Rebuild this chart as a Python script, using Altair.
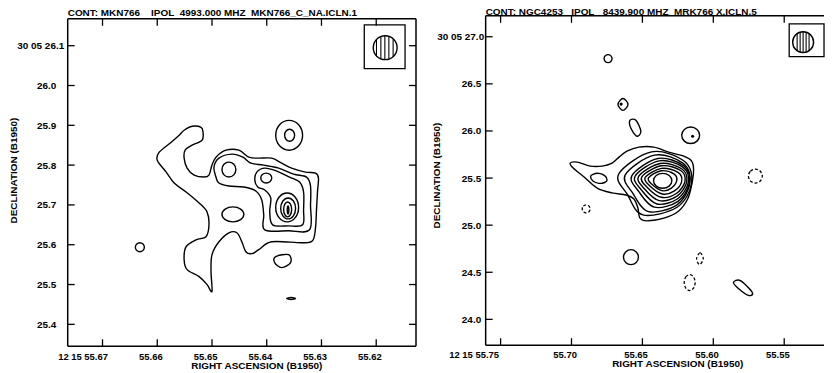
import altair as alt
import pandas as pd

FONT = "Liberation Sans"
NB = "\u00a0"

# ---------------- Left panel: MKN766, 4993 MHz (RA seconds, Dec arcsec) ----------------
L_TITLE = "CONT: MKN766" + NB * 4 + "IPOL" + NB * 2 + "4993.000 MHZ" + NB * 2 + "MKN766_C_NA.ICLN.1"
L_XTICKS = [55.67, 55.66, 55.65, 55.64, 55.63, 55.62]
L_YTICKS = [26.1, 26.0, 25.9, 25.8, 25.7, 25.6, 25.5, 25.4]

L_outer = [(55.65509, 25.8875), (55.65364, 25.8975), (55.65200, 25.8950), (55.65164, 25.8825),
           (55.65182, 25.8625), (55.65364, 25.8500), (55.65491, 25.8375), (55.65509, 25.8175),
           (55.65455, 25.7925), (55.65327, 25.7750), (55.65145, 25.7700), (55.65055, 25.7750),
           (55.65000, 25.8000), (55.64927, 25.8200), (55.64745, 25.8375), (55.64509, 25.8375),
           (55.64327, 25.8200), (55.64145, 25.8175), (55.63909, 25.8175), (55.63727, 25.8050),
           (55.63545, 25.7925), (55.63291, 25.7825), (55.63109, 25.7800), (55.63055, 25.7675),
           (55.63073, 25.7325), (55.63091, 25.6875), (55.63109, 25.6425), (55.63164, 25.6100),
           (55.63364, 25.6050), (55.63909, 25.6075), (55.64145, 25.5875), (55.64273, 25.5775),
           (55.64382, 25.5825), (55.64455, 25.6075), (55.64545, 25.6300), (55.64691, 25.6300),
           (55.64873, 25.6075), (55.65000, 25.5750), (55.65018, 25.5325), (55.65000, 25.4825),
           (55.65091, 25.5000), (55.65236, 25.5200), (55.65455, 25.5375), (55.65509, 25.5625),
           (55.65473, 25.5950), (55.65291, 25.6125), (55.65109, 25.6200), (55.65055, 25.6500),
           (55.65091, 25.6825), (55.65236, 25.7050), (55.65473, 25.7325), (55.65691, 25.7550),
           (55.65836, 25.7825), (55.66000, 25.8125), (55.65964, 25.8325), (55.65745, 25.8575),
           (55.65600, 25.8750)]
L_second = [(55.64927, 25.7700), (55.64964, 25.7950), (55.64873, 25.8175), (55.64636, 25.8275),
            (55.64436, 25.8200), (55.64291, 25.8050), (55.64055, 25.8000), (55.63782, 25.7925),
            (55.63509, 25.7775), (55.63273, 25.7700), (55.63200, 25.7475), (55.63200, 25.7000),
            (55.63218, 25.6375), (55.63600, 25.6350), (55.64036, 25.6375), (55.64055, 25.6750),
            (55.64091, 25.7125), (55.64200, 25.7350), (55.64418, 25.7450), (55.64691, 25.7475),
            (55.64873, 25.7550)]
L_third = [(55.64218, 25.7625), (55.64182, 25.7825), (55.64036, 25.7925), (55.63818, 25.7850),
           (55.63582, 25.7700), (55.63400, 25.7575), (55.63327, 25.7325), (55.63327, 25.6875),
           (55.63345, 25.6500), (55.63600, 25.6475), (55.63891, 25.6500), (55.63945, 25.6825),
           (55.63927, 25.7175), (55.64036, 25.7375), (55.64164, 25.7450)]
L_peak_west = [(55.64818, 25.7888), (55.64781, 25.8020), (55.64691, 25.8075), (55.64601, 25.8020),
               (55.64564, 25.7888), (55.64601, 25.7755), (55.64691, 25.7700), (55.64781, 25.7755)]
L_peak_mid = [(55.64109, 25.7675), (55.64080, 25.7763), (55.64009, 25.7800), (55.63938, 25.7763),
              (55.63909, 25.7675), (55.63938, 25.7587), (55.64009, 25.7550), (55.64080, 25.7587)]
L_peak_r2 = [(55.63836, 25.6938), (55.63775, 25.7194), (55.63627, 25.7300), (55.63479, 25.7194),
             (55.63418, 25.6938), (55.63479, 25.6681), (55.63627, 25.6575), (55.63775, 25.6681)]
L_peak_r3 = [(55.63745, 25.6913), (55.63705, 25.7098), (55.63609, 25.7175), (55.63513, 25.7098),
             (55.63473, 25.6913), (55.63513, 25.6727), (55.63609, 25.6650), (55.63705, 25.6727)]
L_peak_r4 = [(55.63691, 25.6888), (55.63669, 25.7020), (55.63618, 25.7075), (55.63567, 25.7020),
             (55.63545, 25.6888), (55.63567, 25.6755), (55.63618, 25.6700), (55.63669, 25.6755)]
L_peak_r5 = [(55.63625, 25.6875), (55.63611, 25.6975), (55.63596, 25.6875), (55.63611, 25.6775)]
L_ne_out = [(55.63836, 25.8750), (55.63765, 25.9015), (55.63591, 25.9125), (55.63417, 25.9015),
            (55.63345, 25.8750), (55.63417, 25.8485), (55.63591, 25.8375), (55.63765, 25.8485)]
L_ne_in = [(55.63673, 25.8750), (55.63646, 25.8856), (55.63582, 25.8900), (55.63518, 25.8856),
           (55.63491, 25.8750), (55.63518, 25.8644), (55.63582, 25.8600), (55.63646, 25.8644)]
L_ellipse = [(55.64818, 25.6763), (55.64759, 25.6895), (55.64618, 25.6950), (55.64477, 25.6895),
             (55.64418, 25.6763), (55.64477, 25.6630), (55.64618, 25.6575), (55.64759, 25.6630)]
L_west = [(55.66400, 25.5938), (55.66376, 25.6017), (55.66318, 25.6050), (55.66260, 25.6017),
          (55.66236, 25.5938), (55.66260, 25.5858), (55.66318, 25.5825), (55.66376, 25.5858)]
L_south = [(55.63836, 25.5700), (55.63600, 25.5750), (55.63564, 25.5550), (55.63727, 25.5425),
           (55.63855, 25.5550)]
L_dash = [(55.63636, 25.4650), (55.63555, 25.4675), (55.63473, 25.4650), (55.63555, 25.4625)]

L_CONTOURS = {"outer": L_outer, "second": L_second, "third": L_third, "pw": L_peak_west,
              "pm": L_peak_mid, "r2": L_peak_r2, "r3": L_peak_r3, "r4": L_peak_r4,
              "r5": L_peak_r5, "neo": L_ne_out, "nei": L_ne_in, "ell": L_ellipse,
              "west": L_west, "south": L_south, "dash": L_dash}
L_NEG = {}
L_DOTS = []
# beam box (RA1, RA2, Dec top, Dec bottom), beam centre, hatch lines
L_BOX = [(55.62218, 55.61473, 26.1525, 26.0425)]
L_BEAM = [(55.61836, 26.095)]
L_HATCH_RA = [55.61995, 55.61915, 55.61842, 55.61769, 55.61691]
L_HATCH_TOP = [26.1165, 26.12325, 26.125, 26.12325, 26.1165]
L_HATCH_BOT = [26.0735, 26.06675, 26.065, 26.06675, 26.0735]

# ---------------- Right panel: NGC4253 / MRK766, 8439.9 MHz ----------------
R_TITLE = "CONT: NGC4253" + NB * 3 + "IPOL" + NB * 3 + "8439.900 MHZ" + NB * 2 + "MRK766 X.ICLN.5"
R_XTICKS = [55.75, 55.70, 55.65, 55.60, 55.55]
R_YTICKS = [27.0, 26.5, 26.0, 25.5, 25.0, 24.5, 24.0]

R_outer = [(55.7009, 25.659), (55.6960, 25.669), (55.6868, 25.627), (55.6784, 25.627),
           (55.6714, 25.659), (55.6665, 25.722), (55.6609, 25.785), (55.6525, 25.828),
           (55.6419, 25.828), (55.6314, 25.775), (55.6209, 25.732), (55.6153, 25.680),
           (55.6139, 25.585), (55.6153, 25.426), (55.6181, 25.278), (55.6244, 25.151),
           (55.6342, 25.078), (55.6468, 25.046), (55.6518, 25.078), (55.6532, 25.183),
           (55.6560, 25.278), (55.6616, 25.320), (55.6714, 25.342), (55.6819, 25.394),
           (55.6911, 25.511), (55.6988, 25.606)]
R_l2 = [(55.6667, 25.543), (55.6436, 25.778), (55.6204, 25.678), (55.6153, 25.443),
        (55.6256, 25.190), (55.6497, 25.109), (55.6605, 25.324)]
R_l3 = [(55.6621, 25.534), (55.6415, 25.743), (55.6210, 25.653), (55.6165, 25.443),
        (55.6256, 25.216), (55.6457, 25.144), (55.6566, 25.335)]
R_l4 = [(55.6574, 25.526), (55.6391, 25.708), (55.6209, 25.630), (55.6169, 25.449),
        (55.6249, 25.253), (55.6416, 25.191), (55.6525, 25.356)]
R_l5 = [(55.6551, 25.522), (55.6382, 25.683), (55.6213, 25.614), (55.6176, 25.454),
        (55.6251, 25.280), (55.6397, 25.225), (55.6506, 25.372)]
R_l6 = [(55.6527, 25.517), (55.6374, 25.655), (55.6221, 25.596), (55.6188, 25.458),
        (55.6256, 25.308), (55.6381, 25.260), (55.6486, 25.387)]
R_l7 = [(55.6504, 25.513), (55.6367, 25.630), (55.6230, 25.580), (55.6200, 25.463),
        (55.6261, 25.336), (55.6367, 25.296), (55.6467, 25.403)]
R_l8 = [(55.6480, 25.507), (55.6365, 25.603), (55.6249, 25.561), (55.6223, 25.466),
        (55.6274, 25.364), (55.6360, 25.331), (55.6449, 25.418)]
R_l9 = [(55.6457, 25.503), (55.6367, 25.577), (55.6278, 25.545), (55.6258, 25.472),
        (55.6298, 25.391), (55.6361, 25.366), (55.6433, 25.434)]
R_core = [(55.64215, 25.4705), (55.64026, 25.5265), (55.63569, 25.5497), (55.63112, 25.5265),
          (55.62923, 25.4705), (55.63112, 25.4145), (55.63569, 25.3913), (55.64026, 25.4145)]
R_tail = [(55.68656, 25.514), (55.68486, 25.540), (55.68074, 25.550), (55.67662, 25.526),
          (55.67491, 25.480), (55.67662, 25.453), (55.68074, 25.444), (55.68486, 25.468)]
R_top = [(55.67702, 26.768), (55.67620, 26.797), (55.67421, 26.810), (55.67223, 26.797),
         (55.67140, 26.768), (55.67223, 26.738), (55.67421, 26.725), (55.67620, 26.738)]
R_a = [(55.6672, 26.282), (55.6637, 26.345), (55.6602, 26.282), (55.6637, 26.218)]
R_b = [(55.6588, 26.113), (55.6546, 26.113), (55.6511, 25.997), (55.6539, 25.944), (55.6581, 26.028)]
R_c = [(55.62229, 25.954), (55.62044, 26.016), (55.61597, 26.042), (55.61150, 26.016),
       (55.60965, 25.954), (55.61150, 25.892), (55.61597, 25.867), (55.62044, 25.892)]
R_d = [(55.66333, 24.660), (55.66179, 24.716), (55.65807, 24.740), (55.65435, 24.716),
       (55.65281, 24.660), (55.65435, 24.604), (55.65807, 24.581), (55.66179, 24.604)]
R_e = [(55.5858, 24.391), (55.5809, 24.412), (55.5725, 24.285), (55.5753, 24.254), (55.5823, 24.328)]
R_n1 = [(55.69246, 25.173), (55.69164, 25.202), (55.68965, 25.215), (55.68767, 25.202),
        (55.68684, 25.173), (55.68767, 25.143), (55.68965, 25.130), (55.69164, 25.143)]
R_n2 = [(55.6118, 24.644), (55.6093, 24.708), (55.6071, 24.644), (55.6097, 24.581)]
R_n3 = [(55.62053, 24.391), (55.61940, 24.451), (55.61667, 24.475), (55.61394, 24.451),
        (55.61281, 24.391), (55.61394, 24.331), (55.61667, 24.306), (55.61940, 24.331)]
R_n4 = [(55.57526, 25.521), (55.57382, 25.573), (55.57035, 25.595), (55.56688, 25.573),
        (55.56544, 25.521), (55.56688, 25.469), (55.57035, 25.447), (55.57382, 25.469)]

R_CONTOURS = {"outer": R_outer, "l2": R_l2, "l3": R_l3, "l4": R_l4, "l5": R_l5, "l6": R_l6,
              "l7": R_l7, "l8": R_l8, "l9": R_l9, "core": R_core, "tail": R_tail, "top": R_top,
              "a": R_a, "b": R_b, "c": R_c, "d": R_d, "e": R_e}
R_NEG = {"n1": R_n1, "n2": R_n2, "n3": R_n3, "n4": R_n4}
R_DOTS = [(55.6146, 25.944), (55.6650, 26.285)]
R_BOX = [(55.54649, 55.52193, 27.1373, 26.7887)]
R_BEAM = [(55.53667, 26.9419)]
R_HATCH_RA = [55.54088, 55.53877, 55.53667, 55.53456, 55.53246]
R_HATCH_TOP = [27.0327, 27.0475, 27.0528, 27.0475, 27.0327]
R_HATCH_BOT = [26.8511, 26.8363, 26.8310, 26.8363, 26.8511]


def contour_df(contours):
    rows = []
    for cid, pts in contours.items():
        for i, (ra, dec) in enumerate(pts):
            rows.append({"cid": cid, "i": i, "ra": ra, "dec": dec})
    return pd.DataFrame(rows, columns=["cid", "i", "ra", "dec"])


def panel(p):
    W, H = p["W"], p["H"]
    ft, fb = p["ftop"], p["fbot"]
    xs = alt.Scale(domain=p["xdom"], reverse=True, nice=False, zero=False)
    ys = alt.Scale(domain=p["ydom"], nice=False, zero=False)
    xfirst, yfirst = p["xt"][0], p["yt"][0]
    xaxis = alt.Axis(
        values=p["xt"], ticks=False, tickSize=0, domain=False, grid=False,
        labelExpr=f"abs(datum.value - {xfirst}) < 0.0001 ? '12 15 {xfirst:.2f}' : format(datum.value, '.2f')",
        labelFont=FONT, labelFontSize=9.5, labelFontWeight="bold", labelColor="black",
        labelAlign="right", labelBaseline="top",
        labelOffset={"condition": {"test": f"abs(datum.value - {xfirst}) < 0.0001", "value": p["xoff_first"]},
                     "value": 5},
        labelPadding=p["xpad"], labelOverlap=False, labelFlush=False,
        title="RIGHT ASCENSION (B1950)", titleFont=FONT, titleFontSize=10, titleFontWeight="bold",
        titleColor="black", titleX=p["xtitle"][0], titleY=p["xtitle"][1], titleAlign="center",
        titleBaseline="alphabetic", titleAngle=0)
    yaxis = alt.Axis(
        values=p["yt"], ticks=False, tickSize=0, domain=False, grid=False,
        labelExpr=f"abs(datum.value - {yfirst}) < 0.001 ? '30 05 {yfirst:.1f}' : format(datum.value, '.1f')",
        labelFont=FONT, labelFontSize=10, labelFontWeight="bold", labelColor="black",
        labelAlign="right", labelBaseline="middle",
        labelPadding={"condition": {"test": f"abs(datum.value - {yfirst}) < 0.001", "value": p["ypad"][0]},
                      "value": p["ypad"][1]},
        labelOverlap=False, labelFlush=False,
        title="DECLINATION (B1950)", titleFont=FONT, titleFontSize=10, titleFontWeight="bold",
        titleColor="black", titleX=p["ytitle"][0], titleY=p["ytitle"][1], titleAngle=270,
        titleAlign="center", titleBaseline="middle")
    X = lambda f: alt.X(f"{f}:Q", scale=xs, axis=xaxis)
    Y = lambda f: alt.Y(f"{f}:Q", scale=ys, axis=yaxis)

    layers = []
    cdf = contour_df(p["contours"])
    layers.append(alt.Chart(cdf).mark_line(interpolate="cardinal-closed", color="black", strokeWidth=1.4)
                  .encode(x=X("ra"), y=Y("dec"), detail="cid:N", order="i:Q"))
    if p["neg"]:
        ndf = contour_df(p["neg"])
        layers.append(alt.Chart(ndf).mark_line(interpolate="cardinal-closed", color="black",
                                               strokeWidth=1.3, strokeDash=[3, 2])
                      .encode(x=X("ra"), y=Y("dec"), detail="cid:N", order="i:Q"))
    if p["dots"]:
        ddf = pd.DataFrame(p["dots"], columns=["ra", "dec"])
        layers.append(alt.Chart(ddf).mark_point(filled=True, color="black", size=10, opacity=1)
                      .encode(x=X("ra"), y=Y("dec")))
    # beam box with hatched beam
    bdf = pd.DataFrame(p["box"], columns=["ra", "ra2", "dec", "dec2"])
    layers.append(alt.Chart(bdf).mark_rect(fill="white", stroke="black", strokeWidth=1.3)
                  .encode(x=X("ra"), x2="ra2", y=Y("dec"), y2="dec2"))
    hdf = pd.DataFrame({"ra": p["hra"], "dec": p["htop"], "dec2": p["hbot"]})
    layers.append(alt.Chart(hdf).mark_rule(color="black", strokeWidth=1.1)
                  .encode(x=X("ra"), y=Y("dec"), y2="dec2"))
    cdfb = pd.DataFrame(p["beam"], columns=["ra", "dec"])
    layers.append(alt.Chart(cdfb).mark_point(shape="circle", filled=False, color="black",
                                             strokeWidth=1.4, size=p["beam_size"], opacity=1)
                  .encode(x=X("ra"), y=Y("dec")))
    # inward ticks on the frame
    xt_df = pd.DataFrame({"ra": p["xt"]})
    yt_df = pd.DataFrame({"dec": p["yt"]})
    tick = dict(color="black", strokeWidth=1.3)
    layers.append(alt.Chart(xt_df).mark_rule(**tick).encode(x=X("ra"), y=alt.value(ft), y2=alt.value(ft + 7)))
    layers.append(alt.Chart(xt_df).mark_rule(**tick).encode(x=X("ra"), y=alt.value(fb), y2=alt.value(fb - 7)))
    layers.append(alt.Chart(yt_df).mark_rule(**tick).encode(y=Y("dec"), x=alt.value(0), x2=alt.value(7)))
    if p["right_frame"]:
        layers.append(alt.Chart(yt_df).mark_rule(**tick).encode(y=Y("dec"), x=alt.value(W), x2=alt.value(W - 7)))
    # frame
    one = pd.DataFrame({"k": [0]})
    fr = dict(color="black", strokeWidth=1.5)
    layers.append(alt.Chart(one).mark_rule(**fr).encode(x=alt.value(0), x2=alt.value(W), y=alt.value(ft)))
    layers.append(alt.Chart(one).mark_rule(**fr).encode(x=alt.value(0), x2=alt.value(W), y=alt.value(fb)))
    layers.append(alt.Chart(one).mark_rule(**fr).encode(x=alt.value(0), y=alt.value(ft), y2=alt.value(fb)))
    if p["right_frame"]:
        layers.append(alt.Chart(one).mark_rule(**fr).encode(x=alt.value(W), y=alt.value(ft), y2=alt.value(fb)))
    # map header line
    tdf = pd.DataFrame({"t": [p["title"]]})
    layers.append(alt.Chart(tdf).mark_text(align="left", baseline="alphabetic", font=FONT, fontSize=10,
                                           fontWeight="bold", color="black")
                  .encode(text="t:N", x=alt.value(0), y=alt.value(p["title_y"])))
    return alt.layer(*layers).properties(width=W, height=H)


left = panel(dict(
    W=350, H=329, ftop=0, fbot=329, right_frame=True,
    xdom=[55.61273, 55.67636], ydom=[25.345, 26.1675],
    xt=L_XTICKS, yt=L_YTICKS, xoff_first=5, xpad=5, ypad=(4, 12),
    xtitle=(189.5, 22), ytitle=(-54.5, 152),
    contours=L_CONTOURS, neg=L_NEG, dots=L_DOTS, box=L_BOX, beam=L_BEAM, beam_size=576,
    hra=L_HATCH_RA, htop=L_HATCH_TOP, hbot=L_HATCH_BOT, title=L_TITLE, title_y=-3))

right = panel(dict(
    W=340, H=329, ftop=-3, fbot=328, right_frame=False,
    xdom=[55.52194, 55.76053], ydom=[23.7149, 27.1901],
    xt=R_XTICKS, yt=R_YTICKS, xoff_first=-2, xpad=3, ypad=(2, 5),
    xtitle=(192.5, 20), ytitle=(-49, 157),
    contours=R_CONTOURS, neg=R_NEG, dots=R_DOTS, box=R_BOX, beam=R_BEAM, beam_size=441,
    hra=R_HATCH_RA, htop=R_HATCH_TOP, hbot=R_HATCH_BOT, title=R_TITLE, title_y=-4))

chart = alt.hconcat(left, right, spacing=70, bounds="flush").configure_view(stroke=None).properties(
    padding={"left": 0, "top": -2, "right": 0, "bottom": 0}, background="white")

chart.save("out.html", embed_options={"renderer": "svg", "actions": False})
